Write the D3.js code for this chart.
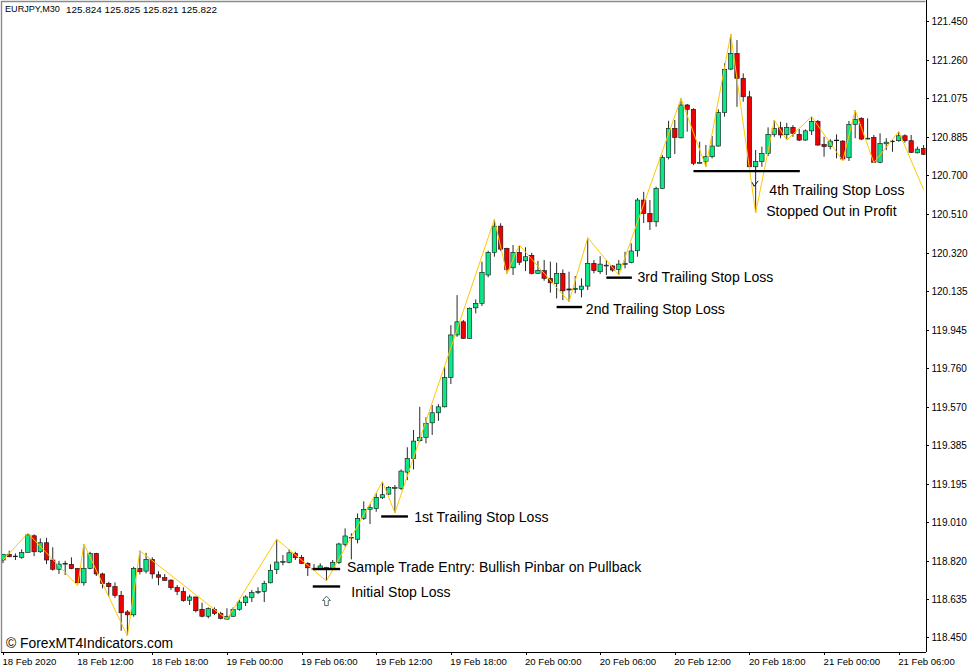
<!DOCTYPE html>
<html>
<head>
<meta charset="utf-8">
<title>EURJPY,M30</title>
<script src="https://cdn.jsdelivr.net/npm/d3@7"></script>
<style>
  html, body { margin: 0; padding: 0; background: #fff; overflow: hidden; }
  text { font-family: "Liberation Sans", Arial, sans-serif; fill: #000; }
  .axis text { font-size: 10px; }
  .axis path, .axis line { stroke: #000; shape-rendering: crispEdges; }
</style>
</head>
<body>
<div id="chart"></div>
<script>
const opens = [
  118.825,118.853,118.844,118.838,118.862,118.943,118.865,118.909,118.825,118.780,
  118.805,118.804,118.784,118.714,118.784,118.857,118.757,118.711,118.695,118.653,
  118.572,118.558,118.784,118.771,118.828,118.753,118.739,118.727,118.692,118.672,
  118.629,118.645,118.585,118.551,118.585,118.565,118.537,118.551,118.585,118.617,
  118.643,118.666,118.672,118.714,118.778,118.814,118.814,118.857,118.838,118.809,
  118.783,118.782,118.782,118.784,118.812,118.901,118.932,118.926,119.028,119.072,
  119.075,119.128,119.146,119.174,119.174,119.253,119.320,119.406,119.422,119.493,
  119.542,119.571,119.713,119.921,119.985,119.904,120.053,120.075,120.213,120.323,
  120.451,120.343,120.248,120.323,120.282,120.309,120.221,120.234,120.197,120.172,
  120.221,120.145,120.143,120.143,120.159,120.270,120.229,120.257,120.257,120.240,
  120.265,120.273,120.331,120.578,120.513,120.472,120.635,120.786,120.927,120.881,
  121.041,121.020,120.757,120.765,120.789,120.841,121.005,121.216,121.292,121.171,
  121.081,120.740,120.765,120.805,120.898,120.930,120.896,120.932,120.898,120.870,
  120.915,120.961,120.849,120.838,120.867,120.865,120.784,120.947,120.976,120.875,
  120.883,120.762,120.852,120.862,120.867,120.891,120.867,120.808,120.830
];
const highs = [
  118.854,118.870,118.857,118.877,118.955,118.950,118.930,118.933,118.887,118.821,
  118.821,118.838,118.784,118.901,118.865,118.860,118.763,118.719,118.716,118.674,
  118.581,118.792,118.870,118.860,118.838,118.770,118.757,118.731,118.703,118.692,
  118.656,118.646,118.617,118.594,118.594,118.573,118.590,118.594,118.630,118.653,
  118.679,118.692,118.724,118.804,118.926,118.849,118.877,118.865,118.849,118.814,
  118.805,118.809,118.792,118.825,118.909,118.979,118.955,119.052,119.111,119.098,
  119.150,119.206,119.185,119.190,119.266,119.374,119.458,119.571,119.520,119.580,
  119.584,119.766,119.969,120.115,119.994,120.055,120.094,120.278,120.331,120.484,
  120.465,120.346,120.359,120.354,120.348,120.321,120.282,120.286,120.278,120.273,
  120.240,120.229,120.208,120.197,120.394,120.286,120.305,120.286,120.261,120.286,
  120.326,120.367,120.588,120.618,120.578,120.643,120.797,120.964,120.968,121.073,
  121.046,121.025,120.862,120.846,120.890,121.020,121.244,121.386,121.357,121.195,
  121.110,120.822,120.838,120.932,120.968,120.959,120.954,120.943,120.924,120.922,
  120.984,120.968,120.886,120.874,120.898,120.870,120.963,121.016,120.981,120.976,
  120.895,120.903,120.879,120.870,120.911,120.898,120.895,120.838,120.846
];
const lows = [
  118.810,118.838,118.825,118.831,118.862,118.844,118.860,118.805,118.773,118.757,
  118.752,118.780,118.711,118.700,118.780,118.747,118.687,118.646,118.641,118.480,
  118.455,118.549,118.755,118.760,118.734,118.702,118.723,118.679,118.654,118.622,
  118.606,118.570,118.546,118.541,118.557,118.536,118.533,118.549,118.578,118.601,
  118.620,118.659,118.620,118.711,118.757,118.799,118.809,118.825,118.805,118.747,
  118.776,118.779,118.723,118.779,118.805,118.890,118.828,118.906,119.020,119.000,
  119.060,119.122,119.141,119.055,119.166,119.214,119.266,119.401,119.393,119.434,
  119.503,119.568,119.682,119.912,119.904,119.904,120.026,120.062,120.202,120.302,
  120.331,120.218,120.213,120.261,120.232,120.216,120.218,120.185,120.127,120.099,
  120.091,120.083,120.124,120.104,120.140,120.221,120.218,120.213,120.229,120.213,
  120.245,120.270,120.302,120.466,120.432,120.448,120.633,120.776,120.802,120.879,
  120.911,120.748,120.756,120.740,120.781,120.838,120.984,121.211,121.032,121.057,
  120.737,120.515,120.740,120.792,120.886,120.879,120.874,120.886,120.865,120.867,
  120.895,120.842,120.789,120.825,120.781,120.769,120.768,120.879,120.870,120.875,
  120.760,120.757,120.822,120.813,120.862,120.857,120.808,120.805,120.797
];
const closes = [
  118.853,118.841,118.841,118.862,118.947,118.865,118.909,118.825,118.780,118.805,
  118.809,118.783,118.714,118.784,118.857,118.757,118.711,118.695,118.653,118.568,
  118.558,118.784,118.768,118.828,118.757,118.741,118.726,118.690,118.672,118.627,
  118.645,118.578,118.551,118.588,118.565,118.541,118.551,118.585,118.620,118.645,
  118.666,118.672,118.711,118.775,118.815,118.818,118.860,118.836,118.809,118.787,
  118.779,118.796,118.789,118.814,118.903,118.942,118.935,119.028,119.072,119.080,
  119.130,119.143,119.179,119.179,119.258,119.320,119.404,119.422,119.491,119.542,
  119.571,119.713,119.921,119.985,119.904,120.051,120.075,120.226,120.323,120.451,
  120.339,120.240,120.323,120.275,120.302,120.221,120.236,120.197,120.175,120.221,
  120.136,120.140,120.148,120.159,120.270,120.234,120.266,120.261,120.237,120.266,
  120.270,120.330,120.578,120.513,120.472,120.635,120.786,120.927,120.883,121.041,
  121.020,120.757,120.761,120.789,120.841,121.005,121.215,121.292,121.171,121.081,
  120.740,120.765,120.805,120.898,120.927,120.895,120.932,120.903,120.870,120.915,
  120.961,120.846,120.838,120.865,120.870,120.778,120.947,120.971,120.875,120.879,
  120.762,120.854,120.860,120.865,120.891,120.867,120.810,120.826,120.801
];

// zigzag turning points
const zigzagBars = [0,4,12,13,20,22,36,44,52,61,63,79,81,83,91,94,99,109,113,117,121,124,126,130,135,137,140,144,148];
const zigzagPrices = [
  118.825,118.955,118.700,118.903,118.455,118.870,118.536,118.926,118.723,119.206,
  119.055,120.484,120.218,120.359,120.083,120.394,120.213,121.073,120.740,121.386,
  120.515,120.968,120.870,120.984,120.769,121.016,120.760,120.911,120.629
];

const priceTicks = [121.450,121.260,121.075,120.885,120.700,120.510,120.320,120.135,119.945,119.760,119.570,119.385,119.195,119.010,118.820,118.635,118.450];
const timeTicks = [0,12,24,36,48,60,72,84,96,108,120,132,144];
const timeLabels = ["18 Feb 2020","18 Feb 12:00","18 Feb 18:00","19 Feb 00:00","19 Feb 06:00","19 Feb 12:00","19 Feb 18:00","20 Feb 00:00","20 Feb 06:00","20 Feb 12:00","20 Feb 18:00","21 Feb 00:00","21 Feb 06:00"];

// stop loss levels, from bar / to bar / price
const levelFrom = [49.8,49.8,60.8,89.0,97.0,111.0];
const levelTo = [54.2,54.2,65.1,93.1,101.1,128.1];
const levelPrices = [118.781,118.696,119.037,120.057,120.200,120.719];

const noteTexts = ["Sample Trade Entry: Bullish Pinbar on Pullback","Initial Stop Loss","1st Trailing Stop Loss","2nd Trailing Stop Loss","3rd Trailing Stop Loss","4th Trailing Stop Loss","Stopped Out in Profit"];
const noteBars = [55.3,56.0,66.1,93.7,102.0,123.2,122.7];
const notePrices = [118.791,118.668,119.033,120.047,120.203,120.626,120.524];

const width = 977, height = 672;
const plotRight = 925.5, plotBottom = 652;
const green = "#0ae688", red = "#ee0000", zigzagColour = "#ffc800";

const x = d3.scaleLinear().domain([0, 148]).range([3, 923.6]);
const y = d3.scaleLinear().domain([118.45, 121.45]).range([637, 21]);

const svg = d3.select("#chart").append("svg")
  .attr("width", width)
  .attr("height", height)
  .style("display", "block");

// window frame of the terminal
svg.append("path")
  .attr("d", `M1.5,${plotBottom} V1.5 H${plotRight}`)
  .attr("fill", "none")
  .attr("stroke", "#8a8a8a")
  .attr("stroke-width", 1.4);

svg.append("clipPath").attr("id", "plot")
  .append("rect")
  .attr("x", 2).attr("y", 2)
  .attr("width", plotRight - 2)
  .attr("height", plotBottom - 2);

const plot = svg.append("g").attr("clip-path", "url(#plot)");

const bars = plot.selectAll("g.bar")
  .data(d3.range(opens.length))
  .enter()
  .append("g")
  .attr("class", "bar");

bars.append("line")
  .attr("x1", i => x(i))
  .attr("x2", i => x(i))
  .attr("y1", i => y(highs[i]))
  .attr("y2", i => y(lows[i]))
  .attr("stroke", "#111")
  .attr("stroke-width", 0.9);

bars.append("rect")
  .attr("x", i => x(i) - 2.2)
  .attr("width", 4.4)
  .attr("y", i => y(Math.max(opens[i], closes[i])))
  .attr("height", i => Math.abs(y(opens[i]) - y(closes[i])))
  .attr("fill", i => closes[i] >= opens[i] ? green : red)
  .attr("stroke", "#111")
  .attr("stroke-width", 0.6);

const zigzag = d3.line()
  .x(i => x(zigzagBars[i]))
  .y(i => y(zigzagPrices[i]));

plot.append("path")
  .attr("d", zigzag(d3.range(zigzagBars.length)))
  .attr("fill", "none")
  .attr("stroke", zigzagColour)
  .attr("stroke-width", 1);

// stop loss levels
svg.selectAll("line.level")
  .data(levelPrices)
  .enter()
  .append("line")
  .attr("class", "level")
  .attr("x1", (d, i) => x(levelFrom[i]))
  .attr("x2", (d, i) => x(levelTo[i]))
  .attr("y1", d => y(d))
  .attr("y2", d => y(d))
  .attr("stroke", "#000")
  .attr("stroke-width", 2.4);

svg.selectAll("text.note")
  .data(noteTexts)
  .enter()
  .append("text")
  .attr("class", "note")
  .attr("x", (d, i) => x(noteBars[i]))
  .attr("y", (d, i) => y(notePrices[i]))
  .attr("dy", 0.8)
  .attr("dominant-baseline", "middle")
  .style("font-size", "14.05px")
  .text(d => d);

// entry arrow under the pin bar, close tick on the stop-out bar
svg.append("path")
  .attr("transform", `translate(${x(52)},${y(118.625)})`)
  .attr("d", "M0,-5 L4,-0.5 H1.8 V4.5 H-1.8 V-0.5 H-4 Z")
  .attr("fill", "#fff")
  .attr("stroke", "#5c6b70")
  .attr("stroke-width", 1);

svg.append("path")
  .attr("transform", `translate(${x(121)},${y(120.657)})`)
  .attr("d", "M-3.5,-1.5 L-1.5,2.5 L2.5,-3")
  .attr("fill", "none")
  .attr("stroke", "#111")
  .attr("stroke-width", 1);

// axes
svg.append("g")
  .attr("class", "axis")
  .attr("transform", `translate(${plotRight},0)`)
  .call(d3.axisRight(y).tickValues(priceTicks).tickSize(3).tickPadding(3).tickFormat(d3.format(".3f")))
  .call(g => g.select(".domain").attr("d", `M0.5,0 V${plotBottom}`));

const timeAxis = svg.append("g")
  .attr("class", "axis")
  .attr("transform", `translate(0,${plotBottom})`)
  .call(d3.axisBottom(x).tickValues(timeTicks).tickSize(3).tickPadding(3).tickFormat((d, i) => timeLabels[i]))
  .call(g => g.select(".domain").attr("d", `M1,0.5 H${plotRight}`));

timeAxis.selectAll("text")
  .attr("text-anchor", "start")
  .attr("dx", -1)
  .style("font-size", "9.6px");

svg.append("text")
  .attr("x", 5)
  .attr("y", 10)
  .attr("dominant-baseline", "middle")
  .style("font-size", "9.1px")
  .text("EURJPY,M30");

svg.append("text")
  .attr("x", 66)
  .attr("y", 10)
  .attr("dominant-baseline", "middle")
  .style("font-size", "9.9px")
  .text("125.824 125.825 125.821 125.822");

svg.append("text")
  .attr("x", 6)
  .attr("y", 644.5)
  .attr("dominant-baseline", "middle")
  .style("font-size", "13.85px")
  .text("© ForexMT4Indicators.com");
</script>
</body>
</html>
